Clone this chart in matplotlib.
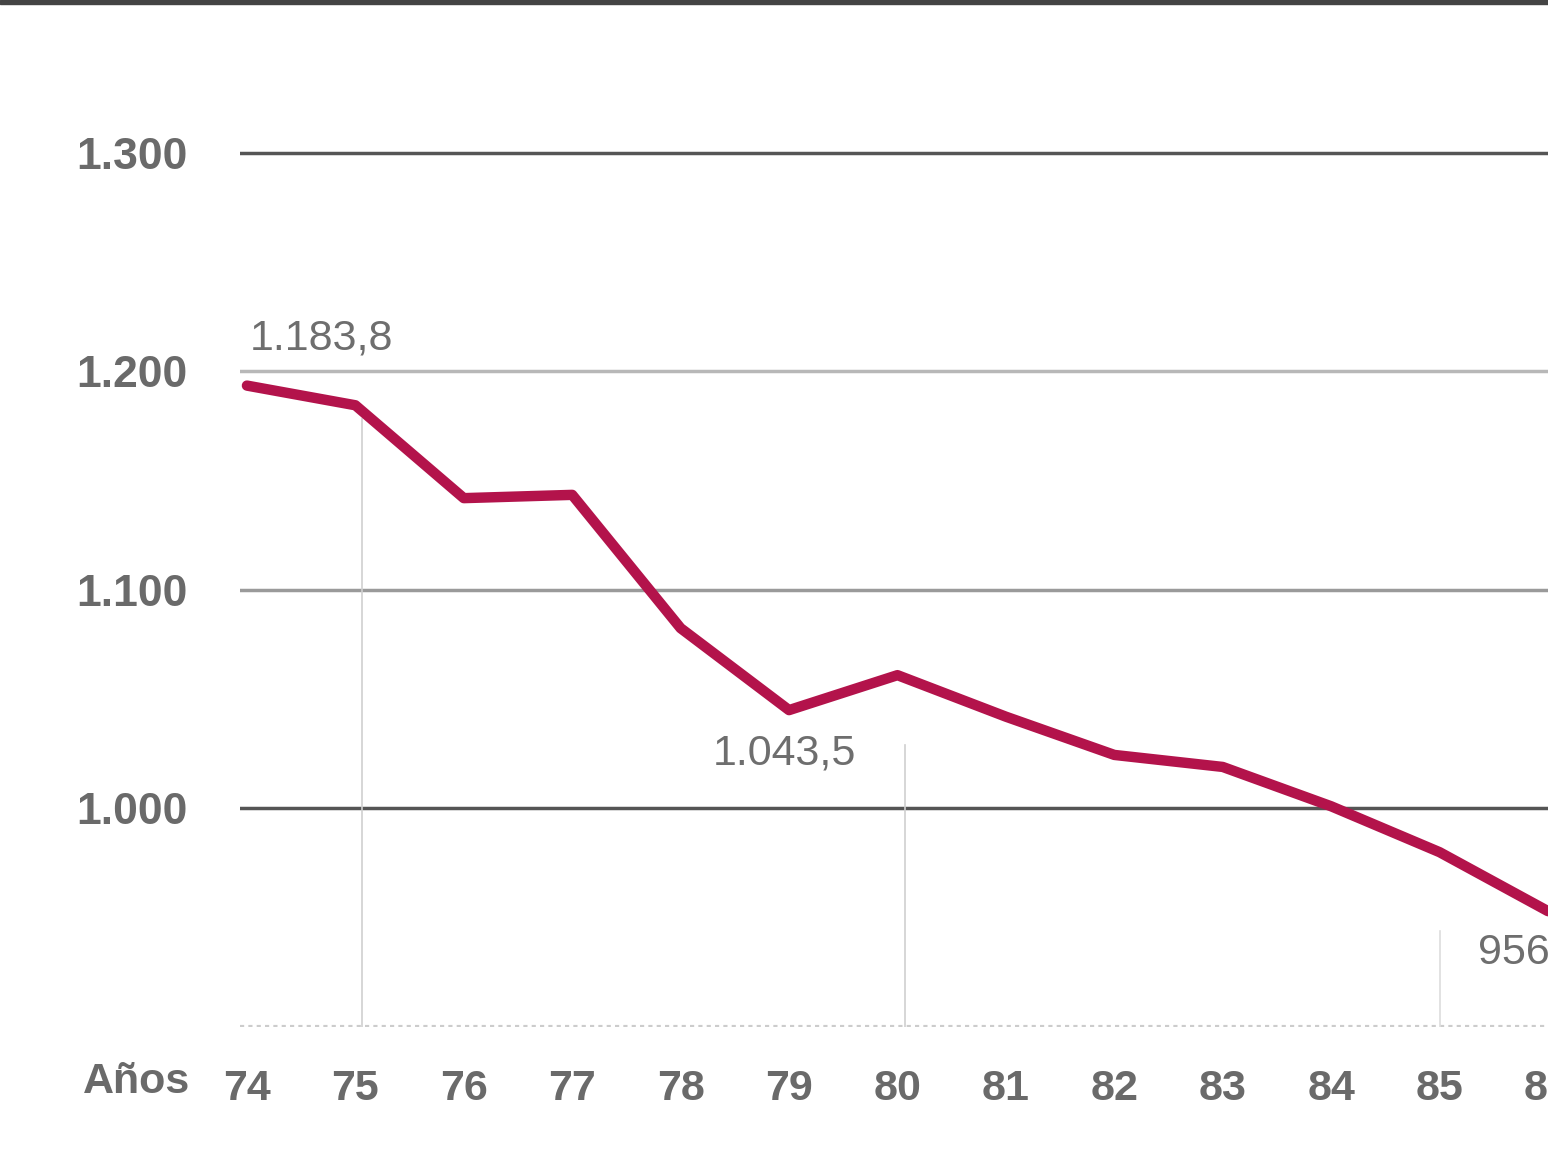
import matplotlib.pyplot as plt

# ========= Data =========
years = [74, 75, 76, 77, 78, 79, 80, 81, 82, 83, 84, 85, 86]
year_labels = ["74", "75", "76", "77", "78", "79", "80", "81", "82", "83", "84", "85", "86"]
values = [1193.5, 1184.5, 1142.0, 1143.5, 1082.5, 1045.0, 1061.0, 1042.0, 1024.5, 1019.0, 1001.0, 980.0, 953.0]
y_ticks = [1000, 1100, 1200, 1300]
y_tick_labels = ["1.000", "1.100", "1.200", "1.300"]

plt.rcParams['font.family'] = ['Liberation Sans', 'DejaVu Sans']

fig = plt.figure(figsize=(15.48, 11.7), dpi=100)
ax = fig.add_axes([240 / 1548, 1 - 1027 / 1170, 1 - 240 / 1548, (1027 - 131) / 1170])
ax.set_xlim(73.936, 85.90)
ax.set_ylim(900, 1310)

# top border strip
fig.add_artist(plt.Rectangle((0, 1 - 4 / 1170), 1, 4 / 1170, transform=fig.transFigure,
                             color="#444444", zorder=5))

# ========= Grid =========
grid_cols = {1000: "#555555", 1100: "#9a9a9a", 1200: "#b8b8b8", 1300: "#555555"}
for yv in y_ticks:
    ax.axhline(yv, color=grid_cols[yv], lw=2.5, zorder=1)
ax.axhline(900, color="#cccccc", lw=3, ls=(0, (1, 1)), zorder=1)

# thin leader lines under the labels
ax.plot([75.06, 75.06], [900, 1178], color="#cfcfcf", lw=1.2, zorder=1)
ax.plot([80.07, 80.07], [900, 1029], color="#cfcfcf", lw=1.2, zorder=1)
ax.plot([85.0, 85.0], [900, 944], color="#dddddd", lw=1.2, zorder=1)

# ========= Line =========
ax.plot(years, values, color="#b3134b", lw=7.5, solid_joinstyle="round",
        solid_capstyle="round", zorder=3)

ax.text(74.03, 1215, "1.183,8", fontsize=31, color="#6e6e6e", ha="left", va="center")
ax.text(78.96, 1025, "1.043,5", fontsize=31, color="#6e6e6e", ha="center", va="center")
ax.text(85.35, 934, "956,5", fontsize=31, color="#6e6e6e", ha="left", va="center")

for s in ax.spines.values():
    s.set_visible(False)
ax.set_yticks(y_ticks)
ax.set_yticklabels(y_tick_labels)
ax.set_xticks(years)
ax.set_xticklabels(year_labels)
ax.tick_params(axis="y", length=0, pad=38, labelsize=32, labelcolor="#6a6a6a")
ax.tick_params(axis="x", length=0, pad=30, labelsize=31, labelcolor="#6a6a6a")
for lbl in ax.get_xticklabels() + ax.get_yticklabels():
    lbl.set_fontweight("bold")
fig.text(137 / 1548, 1 - 1082 / 1170, "Años", fontsize=31, color="#6a6a6a",
         fontweight="bold", ha="center", va="center")

fig.savefig("out.png", dpi=100, facecolor="white")
